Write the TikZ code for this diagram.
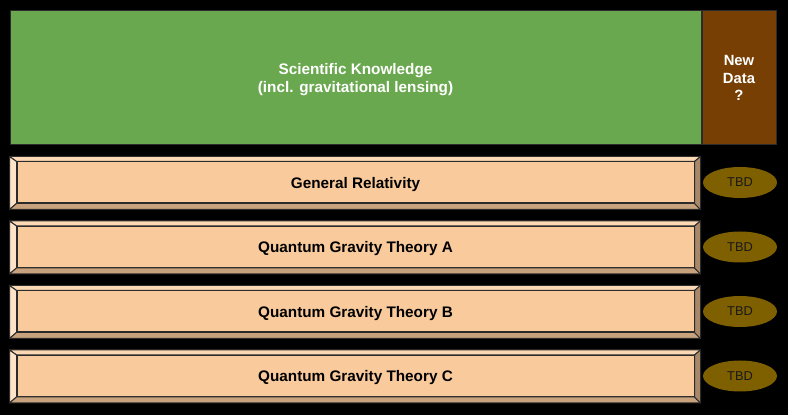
\documentclass[tikz,border=0pt]{standalone}
\usepackage{fontspec}
\setmainfont{Liberation Sans}
\usetikzlibrary{calc,shapes.geometric}
\definecolor{knowgreen}{HTML}{6AA84F}
\definecolor{databrown}{HTML}{783F04}
\definecolor{peach}{HTML}{F9CB9C}
\definecolor{peachlight}{HTML}{FDE3C8}
\definecolor{peachtop}{HTML}{FCD9B4}
\definecolor{peachdark}{HTML}{C8A27C}
\definecolor{peachside}{HTML}{A88868}
\definecolor{tbdolive}{HTML}{7F6000}
\definecolor{edge}{HTML}{2B2B2B}
\begin{document}
\begin{tikzpicture}[x=1pt,y=1pt,
    block/.style={draw=edge, line width=1pt, minimum height=134pt, inner sep=0pt,
      font=\bfseries\fontsize{15.3}{18}\selectfont, text=white, align=center, text depth=0pt},
    face/.style={draw=edge, line width=1pt, fill=peach, minimum width=677pt,
      minimum height=41pt, inner sep=0pt, text depth=0pt,
      font=\bfseries\fontsize{15.3}{18}\selectfont},
    bevel/.style={draw=edge, line width=1pt, line join=round},
    tbd/.style={ellipse, fill=tbdolive, minimum width=74pt, minimum height=31pt,
      inner sep=0pt, text depth=0pt, font=\fontsize{12.8}{14}\selectfont, text=black!90}]
  \fill[black] (0,0) rectangle (788,415);
  \useasboundingbox (0,0) rectangle (788,415);

  \node[block, fill=knowgreen, minimum width=691pt] (know) at (355.5,337)
    {Scientific Knowledge\\(incl. gravitational lensing)};
  \node[block, fill=databrown, minimum width=74pt, font=\bfseries\fontsize{14.8}{17.5}\selectfont]
    (newdata) at (739,337) {New\\Data\\?};

  \foreach \name/\txt [count=\k from 0] in {gr/General Relativity,
      qa/Quantum Gravity Theory A, qb/Quantum Gravity Theory B,
      qc/Quantum Gravity Theory C}
  {
    \node[face] (\name) at (355.5,{232.5-64.5*\k}) {\txt};
    % bevelled rim
    \coordinate (\name-ow) at ($(\name.north west)+(-7,5)$);
    \coordinate (\name-oe) at ($(\name.north east)+(6,5)$);
    \coordinate (\name-se) at ($(\name.south east)+(6,-6)$);
    \coordinate (\name-sw) at ($(\name.south west)+(-7,-6)$);
    \draw[bevel, fill=peachtop] (\name-ow) -- (\name-oe) -- (\name.north east) -- (\name.north west) -- cycle;
    \draw[bevel, fill=peachlight] (\name-ow) -- (\name.north west) -- (\name.south west) -- (\name-sw) -- cycle;
    \draw[bevel, fill=peachdark] (\name-sw) -- (\name.south west) -- (\name.south east) -- (\name-se) -- cycle;
    \draw[bevel, fill=peachside] (\name-oe) -- (\name-se) -- (\name.south east) -- (\name.north east) -- cycle;
    \node[tbd] (\name-tbd) at (740,{232.5-64.5*\k}) {TBD};
  }
\end{tikzpicture}
\end{document}
